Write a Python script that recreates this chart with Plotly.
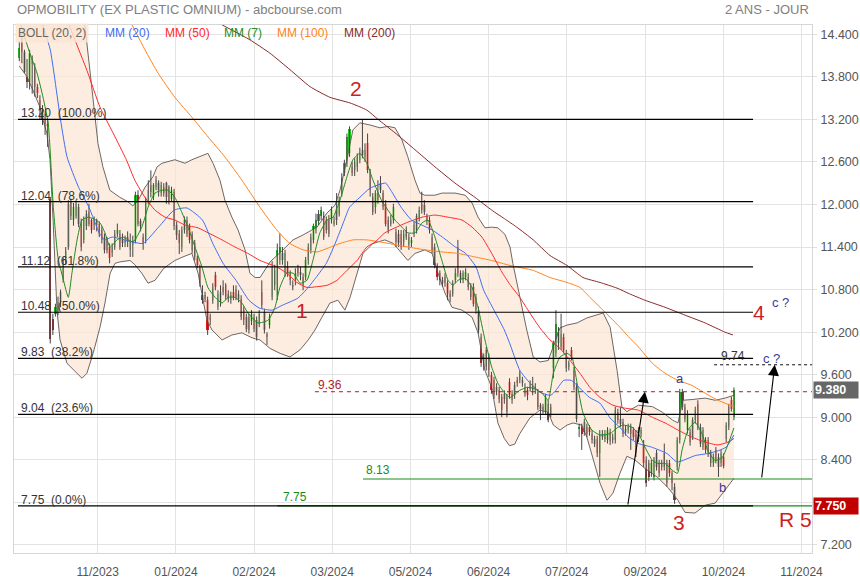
import plotly.graph_objects as go

# ---------------- data ----------------
TITLE = "OPMOBILITY (EX PLASTIC OMNIUM) - abcbourse.com"
PERIOD = "2 ANS - JOUR"

OPEN = [14.06, 14.34, 14.15, 13.80, 13.73, 13.98, 13.89, 13.66, 13.47, 13.35,
        13.19, 13.14, 12.08, 10.39, 10.46, 10.50, 10.62, 10.95, 11.21, 11.40,
        12.04, 11.78, 11.83, 11.97, 11.73, 11.50, 11.69, 11.90, 11.78, 11.71,
        11.78, 11.73, 11.64, 11.54, 11.50, 11.40, 11.31, 11.40, 11.59, 11.59,
        11.50, 11.45, 11.54, 11.36, 11.43, 11.50, 12.13, 11.76, 11.54, 11.50,
        12.06, 12.27, 12.11, 12.25, 12.30, 12.16, 12.25, 12.30, 12.25, 12.08,
        12.18, 11.71, 11.59, 11.40, 11.64, 11.78, 11.69, 11.59, 11.45, 11.24,
        11.12, 10.72, 10.72, 10.65, 10.37, 10.65, 11.00, 10.56, 10.63, 10.84,
        10.86, 10.74, 10.65, 10.77, 10.81, 10.67, 10.67, 10.51, 10.42, 10.42,
        10.35, 10.42, 10.37, 10.32, 10.77, 10.49, 10.18, 10.30, 10.70, 10.86,
        10.70, 11.21, 11.31, 11.03, 11.12, 11.03, 10.87, 10.93, 11.10, 11.05,
        10.98, 10.98, 11.21, 11.36, 11.50, 11.64, 11.76, 11.83, 11.83, 11.78,
        11.78, 11.78, 11.73, 11.94, 11.87, 12.16, 12.44, 12.58, 12.72, 12.53,
        12.48, 12.53, 12.63, 12.77, 12.67, 12.86, 12.46, 12.11, 11.97, 12.16,
        12.30, 12.16, 12.01, 11.78, 11.73, 11.78, 11.61, 11.59, 11.59, 11.47,
        11.64, 11.43, 11.45, 11.59, 11.64, 11.80, 12.01, 11.99, 11.83, 11.78,
        11.54, 11.40, 11.12, 11.03, 10.89, 10.98, 10.89, 10.74, 10.74, 10.93,
        11.40, 11.03, 10.93, 10.98, 10.98, 10.84, 10.84, 10.70, 10.51, 10.13,
        9.73, 9.95, 9.85, 9.59, 9.52, 9.36, 9.38, 9.29, 9.26, 9.29,
        9.50, 9.33, 9.31, 9.52, 9.52, 9.48, 9.33, 9.38, 9.40, 9.45,
        9.40, 9.36, 9.17, 9.15, 9.08, 9.19, 9.05, 9.70, 9.90, 10.04,
        9.99, 10.13, 9.90, 9.71, 9.95, 9.66, 9.43, 8.84, 8.86, 8.79,
        8.86, 8.86, 8.77, 8.63, 8.70, 8.49, 8.72, 8.77, 8.68, 8.79,
        8.68, 8.68, 9.08, 8.98, 8.93, 8.79, 8.82, 8.86, 8.82, 8.77,
        8.82, 8.77, 8.63, 8.40, 8.35, 8.21, 8.16, 8.49, 8.35, 8.30,
        8.49, 8.35, 8.35, 8.21, 8.02, 8.30, 8.68, 9.36, 9.15, 8.82,
        8.79, 8.72, 8.96, 9.19, 8.86, 8.58, 8.68, 8.68, 8.49, 8.35,
        8.54, 8.44, 8.35, 8.44, 8.70, 8.86, 9.24, 9.00]

HIGH = [14.30, 14.42, 14.18, 14.05, 14.18, 14.10, 13.99, 13.70, 13.54, 13.40,
        13.28, 13.20, 12.10, 10.46, 10.60, 10.70, 10.80, 11.25, 11.40, 12.06,
        12.08, 12.02, 12.06, 12.01, 11.80, 11.83, 11.92, 12.01, 11.80, 11.83,
        11.80, 11.76, 11.69, 11.59, 11.54, 11.45, 11.45, 11.64, 11.73, 11.64,
        11.59, 11.56, 11.62, 11.59, 11.56, 12.18, 12.20, 11.80, 11.59, 12.10,
        12.34, 12.48, 12.30, 12.40, 12.34, 12.32, 12.30, 12.32, 12.27, 12.25,
        12.22, 11.76, 11.64, 11.69, 11.83, 11.83, 11.73, 11.62, 11.50, 11.28,
        11.15, 10.86, 10.77, 10.70, 10.46, 10.89, 11.05, 10.79, 10.86, 10.93,
        10.89, 10.79, 10.77, 10.86, 10.86, 10.79, 10.72, 10.56, 10.46, 10.46,
        10.51, 10.46, 10.42, 10.51, 10.93, 10.53, 10.20, 10.46, 11.20, 11.15,
        11.45, 11.59, 11.40, 11.36, 11.20, 11.07, 10.93, 11.10, 11.15, 11.12,
        11.03, 11.26, 11.45, 11.59, 11.73, 11.87, 11.92, 11.97, 11.90, 11.83,
        11.85, 11.97, 11.83, 12.16, 12.11, 12.44, 12.63, 13.00, 13.10, 12.60,
        12.65, 12.72, 12.80, 13.19, 12.86, 13.00, 12.50, 12.16, 12.20, 12.34,
        12.40, 12.20, 12.06, 11.83, 11.85, 12.01, 11.66, 11.64, 11.64, 11.64,
        11.69, 11.59, 11.54, 11.76, 11.87, 11.97, 12.18, 12.06, 11.87, 11.83,
        11.59, 11.45, 11.17, 11.07, 10.98, 11.03, 10.93, 10.79, 10.93, 11.10,
        11.50, 11.07, 11.07, 11.10, 11.03, 10.89, 10.89, 10.74, 10.56, 10.18,
        9.90, 9.99, 9.90, 9.64, 9.57, 9.48, 9.43, 9.33, 9.38, 9.33,
        9.55, 9.38, 9.50, 9.57, 9.66, 9.57, 9.48, 9.43, 9.52, 9.57,
        9.48, 9.40, 9.20, 9.19, 9.33, 9.24, 9.19, 10.08, 10.51, 10.27,
        10.46, 10.18, 9.95, 9.80, 9.99, 9.71, 9.48, 8.91, 8.91, 8.98,
        8.91, 8.89, 8.82, 8.74, 8.74, 8.82, 8.82, 8.82, 8.86, 8.84,
        8.77, 9.15, 9.12, 9.15, 8.98, 8.89, 8.91, 8.91, 8.86, 8.82,
        8.86, 8.86, 8.68, 8.45, 8.40, 8.40, 8.44, 8.54, 8.40, 8.40,
        8.63, 8.40, 8.40, 8.25, 8.07, 8.72, 9.40, 9.40, 9.19, 9.10,
        8.84, 9.00, 9.15, 9.24, 8.91, 8.86, 8.72, 8.72, 8.54, 8.49,
        8.58, 8.49, 8.54, 8.49, 8.93, 9.19, 9.29, 9.42]

LOW = [14.02, 13.99, 13.85, 13.64, 13.62, 13.56, 13.52, 13.50, 13.20, 13.12,
       12.98, 12.81, 10.04, 10.16, 10.42, 10.44, 10.55, 10.90, 11.15, 11.36,
       11.78, 11.70, 11.80, 11.68, 11.34, 11.45, 11.64, 11.69, 11.59, 11.64,
       11.62, 11.54, 11.45, 11.31, 11.31, 11.17, 11.26, 11.36, 11.54, 11.36,
       11.40, 11.40, 11.40, 11.26, 11.26, 11.45, 11.69, 11.62, 11.36, 11.45,
       12.00, 12.10, 12.06, 12.20, 12.11, 12.11, 12.11, 12.01, 12.00, 12.04,
       11.64, 11.50, 11.30, 11.33, 11.59, 11.54, 11.45, 11.31, 11.21, 11.10,
       10.84, 10.60, 10.62, 10.16, 10.30, 10.60, 10.79, 10.51, 10.56, 10.72,
       10.65, 10.62, 10.60, 10.65, 10.65, 10.62, 10.37, 10.30, 10.20, 10.18,
       10.30, 10.20, 10.08, 10.27, 10.53, 10.18, 10.02, 10.25, 10.65, 10.79,
       10.65, 11.15, 11.15, 10.98, 10.98, 10.86, 10.79, 10.86, 10.98, 10.93,
       10.79, 10.93, 11.15, 11.31, 11.45, 11.59, 11.71, 11.78, 11.50, 11.59,
       11.54, 11.73, 11.69, 11.71, 11.83, 12.11, 12.40, 12.53, 12.67, 12.40,
       12.40, 12.46, 12.58, 12.65, 12.60, 12.44, 12.11, 11.85, 11.87, 12.01,
       12.16, 11.92, 11.69, 11.59, 11.69, 11.73, 11.40, 11.40, 11.36, 11.40,
       11.50, 11.36, 11.40, 11.54, 11.59, 11.76, 11.87, 11.85, 11.71, 11.59,
       11.31, 11.10, 10.93, 10.86, 10.84, 10.84, 10.65, 10.62, 10.70, 10.89,
       10.98, 10.89, 10.89, 10.93, 10.79, 10.65, 10.56, 10.46, 10.18, 9.71,
       9.66, 9.66, 9.57, 9.33, 9.26, 9.31, 9.20, 9.00, 9.19, 9.00,
       9.26, 9.19, 9.26, 9.43, 9.48, 9.43, 9.29, 9.24, 9.36, 9.31,
       9.33, 9.10, 8.96, 9.05, 9.03, 8.93, 9.00, 9.55, 9.85, 9.95,
       9.95, 9.90, 9.64, 9.66, 9.80, 9.38, 8.93, 8.72, 8.54, 8.74,
       8.72, 8.74, 8.63, 8.58, 8.44, 8.16, 8.68, 8.65, 8.63, 8.61,
       8.63, 8.63, 8.91, 8.86, 8.72, 8.74, 8.77, 8.54, 8.68, 8.44,
       8.65, 8.72, 8.30, 8.02, 8.10, 8.16, 8.11, 8.25, 8.16, 8.25,
       8.25, 8.02, 8.16, 7.97, 7.78, 8.25, 8.63, 9.10, 8.93, 8.77,
       8.60, 8.68, 8.91, 8.82, 8.58, 8.54, 8.49, 8.44, 8.30, 8.30,
       8.35, 8.16, 8.30, 8.28, 8.65, 8.82, 9.08, 8.96]

CLOSE = [14.20, 14.15, 13.87, 13.73, 14.13, 14.05, 13.66, 13.57, 13.35, 13.19,
         13.14, 13.10, 10.11, 10.23, 10.56, 10.62, 10.77, 11.21, 11.35, 12.01,
         11.83, 11.97, 12.01, 11.73, 11.40, 11.78, 11.87, 11.73, 11.64, 11.78,
         11.71, 11.59, 11.50, 11.36, 11.36, 11.24, 11.40, 11.59, 11.64, 11.40,
         11.45, 11.50, 11.47, 11.50, 11.50, 12.13, 11.73, 11.69, 11.45, 12.06,
         12.20, 12.18, 12.27, 12.34, 12.20, 12.27, 12.16, 12.11, 12.04, 12.20,
         11.69, 11.57, 11.45, 11.64, 11.78, 11.59, 11.50, 11.36, 11.26, 11.14,
         10.89, 10.65, 10.67, 10.23, 10.42, 10.84, 10.84, 10.74, 10.77, 10.77,
         10.70, 10.67, 10.72, 10.70, 10.70, 10.74, 10.42, 10.37, 10.25, 10.23,
         10.46, 10.25, 10.13, 10.46, 10.58, 10.23, 10.13, 10.42, 11.12, 11.07,
         11.36, 11.40, 11.21, 11.31, 11.03, 10.93, 10.84, 11.03, 11.03, 11.00,
         10.86, 11.21, 11.40, 11.54, 11.69, 11.78, 11.87, 11.92, 11.54, 11.64,
         11.59, 11.92, 11.78, 11.78, 12.06, 12.37, 12.58, 12.95, 13.07, 12.44,
         12.60, 12.67, 12.72, 12.70, 12.77, 12.48, 12.20, 11.90, 12.16, 12.06,
         12.20, 11.97, 11.73, 11.64, 11.78, 11.97, 11.47, 11.45, 11.40, 11.59,
         11.54, 11.54, 11.50, 11.71, 11.83, 11.92, 11.92, 11.90, 11.76, 11.64,
         11.36, 11.15, 10.98, 10.93, 10.93, 10.89, 10.74, 10.70, 10.89, 11.03,
         11.03, 10.93, 11.03, 11.05, 10.84, 10.70, 10.60, 10.51, 10.23, 9.76,
         9.85, 9.71, 9.66, 9.38, 9.31, 9.43, 9.26, 9.10, 9.33, 9.08,
         9.31, 9.24, 9.45, 9.48, 9.62, 9.52, 9.43, 9.31, 9.48, 9.38,
         9.43, 9.15, 9.12, 9.10, 9.29, 8.96, 9.15, 10.04, 10.32, 10.20,
         10.18, 9.95, 9.69, 9.76, 9.85, 9.43, 8.98, 8.86, 8.77, 8.93,
         8.77, 8.79, 8.68, 8.70, 8.49, 8.77, 8.77, 8.70, 8.82, 8.66,
         8.72, 9.10, 8.96, 8.91, 8.77, 8.84, 8.86, 8.77, 8.72, 8.49,
         8.70, 8.82, 8.35, 8.07, 8.16, 8.35, 8.40, 8.30, 8.21, 8.35,
         8.30, 8.07, 8.21, 8.07, 7.83, 8.68, 9.36, 9.15, 8.98, 9.05,
         8.65, 8.96, 9.10, 8.86, 8.63, 8.82, 8.54, 8.49, 8.35, 8.44,
         8.40, 8.30, 8.49, 8.32, 8.89, 9.15, 9.12, 9.38]

X_TICK_POS = [30.4, 60.7, 91.0, 121.3, 151.6, 181.9, 212.2, 242.6, 272.9, 303.2]
X_TICK_TEXT = ["11/2023", "01/2024", "02/2024", "03/2024", "05/2024",
               "06/2024", "07/2024", "09/2024", "10/2024", "11/2024"]
Y_TICKS = [7.2, 7.8, 8.4, 9.0, 9.6, 10.2, 10.8, 11.4, 12.0, 12.6, 13.2, 13.8, 14.4]

# Bollinger (20, 2) bands, sampled at bar index positions
BU_X = [0, 22, 25.5, 26.6, 28.6, 30.5, 32.4, 35.1, 39, 42, 44, 46, 48.7, 51.8, 53.4,
        55.3, 60.3, 64.2, 66.9, 73.1, 75.1, 77.8, 79.7, 82.4, 84.8, 87.5, 89.4, 91.4,
        93.3, 97.2, 102.2, 106.1, 110, 115.4, 119.3, 122.4, 124.3, 127, 129.3, 132,
        135.9, 139.8, 142.9, 145.6, 148.3, 150.6, 153.4, 155.3, 157.2, 161.1, 163.8,
        168.9, 172.8, 175.5, 177.8, 180.5, 183.1, 185.5, 188.2, 190.2, 191.3, 194,
        196.7, 199.2, 201.8, 205, 207, 209.6, 212.3, 216.2, 220, 223.9, 226.3, 229,
        231.7, 233.6, 235.5, 240, 245.4, 249.3, 253.2, 255.3, 257.2, 260.7, 265.8,
        269.7, 273.5, 277]
BU_Y = [14.9, 14.9, 14.50, 14.13, 13.43, 12.86, 12.53, 12.20, 12.10, 12.04, 11.98,
        12.05, 12.24, 12.39, 12.53, 12.58, 12.63, 12.58, 12.63, 12.72, 12.58, 12.34,
        12.06, 11.82, 11.64, 11.36, 11.03, 10.97, 10.97, 11.19, 11.36, 11.50, 11.57,
        11.68, 11.88, 11.99, 12.20, 12.63, 13.05, 13.15, 13.12, 13.08, 13.10, 13.08,
        12.91, 12.67, 12.34, 12.16, 12.13, 12.13, 12.16, 12.16, 12.13, 12.02, 11.82,
        11.67, 11.68, 11.67, 11.58, 11.40, 11.17, 10.69, 10.23, 9.85, 9.78, 9.80,
        10.01, 10.26, 10.30, 10.33, 10.40, 10.44, 10.47, 10.27, 9.66, 9.14, 9.08,
        9.17, 9.15, 9.07, 8.96, 8.92, 9.24, 9.25, 9.27, 9.24, 9.27, 9.31]

BL_X = [0, 3, 5.3, 8, 9.2, 10.7, 11.9, 13.1, 14.6, 15.8, 18.5, 22.4, 24.3, 26.2,
        28.6, 31.3, 33.2, 35.2, 37.1, 39, 42.9, 44.8, 47.5, 49.9, 52.6, 56, 60.3,
        63.4, 66.9, 69.3, 72.7, 74.7, 78.6, 82.4, 86.3, 90.2, 93.3, 97.2, 101.1,
        104.9, 108.8, 112, 114.6, 117.3, 120.4, 123.5, 126.2, 128.2, 130.9, 133.2,
        137.1, 141.7, 145, 150.6, 153.4, 157.2, 160, 162.3, 165, 167.7, 171.6, 175.5,
        177.8, 180.5, 183.1, 185.5, 188, 190, 192, 194, 197.9, 201.8, 205, 207,
        209.6, 212.3, 214.6, 218, 220, 222.5, 225.1, 227.8, 230.1, 232.8, 235.5,
        238.6, 242.5, 247.5, 251.4, 255.3, 258, 261.9, 265.8, 269.7, 273.5, 277]
BL_Y = [13.95, 13.80, 13.61, 13.37, 13.19, 13.00, 12.63, 11.78, 10.51, 10.09, 9.76,
        9.62, 9.55, 9.62, 9.90, 10.27, 10.61, 11.03, 11.17, 11.19, 11.21, 11.15,
        11.03, 10.89, 10.93, 11.10, 11.21, 11.26, 11.31, 11.03, 10.37, 10.23, 10.09,
        10.16, 10.19, 10.12, 10.09, 9.97, 9.90, 9.85, 9.95, 10.09, 10.23, 10.41,
        10.61, 10.65, 10.51, 10.69, 11.03, 11.31, 11.45, 11.50, 11.45, 11.21, 11.31,
        11.36, 11.31, 11.03, 10.75, 10.55, 10.51, 10.41, 10.19, 9.66, 9.42, 8.92,
        8.70, 8.60, 8.62, 8.77, 8.99, 9.10, 9.07, 8.89, 8.82, 8.89, 8.92, 8.89,
        8.72, 8.39, 8.07, 7.83, 7.93, 8.21, 8.45, 8.40, 8.28, 8.15, 8.01, 7.83,
        7.66, 7.65, 7.76, 7.79, 7.97, 8.14]

MM20_X = [9, 12, 16, 18.5, 23, 27, 31, 33, 36, 44, 48, 54, 60, 65, 71, 75, 79, 84,
          89, 93, 98, 102, 108, 112, 115, 119, 123, 126, 128, 132, 136, 142, 144,
          148, 152, 156, 160, 164, 169, 173, 177, 180, 184, 188, 190, 194, 198, 202,
          206, 208, 211, 214, 217, 221, 225, 229, 233, 236, 240, 245, 251, 255, 262,
          267, 271, 274, 277]
MM20_Y = [14.53, 14.18, 13.19, 12.67, 12.24, 11.96, 11.60, 11.50, 11.54, 11.47,
          11.45, 11.68, 11.92, 11.95, 11.78, 11.45, 11.17, 10.93, 10.65, 10.54,
          10.51, 10.58, 10.68, 10.83, 10.97, 11.17, 11.50, 11.78, 11.96, 12.10,
          12.23, 12.30, 12.20, 11.96, 11.78, 11.71, 11.64, 11.54, 11.40, 11.31,
          11.12, 10.79, 10.51, 10.23, 10.05, 9.66, 9.48, 9.35, 9.31, 9.38, 9.52,
          9.52, 9.42, 9.28, 9.20, 8.99, 8.85, 8.72, 8.63, 8.58, 8.49, 8.37, 8.46,
          8.49, 8.53, 8.58, 8.75]

MM7_X = [0.6, 4.1, 6.9, 9.2, 11.2, 11.9, 13.2, 15, 17, 19, 20.4, 22.4, 24.3, 26.7,
         28.6, 31.3, 33.2, 35.2, 37.9, 40.2, 44.1, 47.5, 49.9, 52.6, 55.3, 57.6,
         60.3, 63.1, 65.4, 68.1, 70.8, 73.1, 75.9, 78.6, 80.9, 83.6, 86.3, 88.6,
         92.5, 96.5, 99.1, 101, 103.6, 106.2, 108.8, 111.5, 113.8, 116.5, 119.3,
         121.6, 124.3, 127, 129.3, 132, 134.7, 137.1, 140.5, 142.9, 145.6, 148.3,
         150.6, 153.4, 156.1, 158.4, 161.1, 163.8, 166.2, 168.1, 170, 172.8, 175.5,
         177.8, 180.5, 183.1, 185.5, 188.2, 190.2, 194, 196.7, 199.2, 202.6, 205,
         207, 209.6, 212.3, 214.2, 216.2, 218.5, 221.9, 225.1, 229, 231.7, 234,
         237.5, 240, 242.5, 245.4, 247.5, 250.3, 253.2, 255.1, 256.9, 259.2, 261.9,
         264.6, 266.9, 269.7, 272.4, 274.3, 277]
MM7_Y = [14.53, 14.13, 13.85, 13.51, 13.15, 12.80, 11.96, 11.25, 10.95, 10.69,
         11.03, 11.50, 11.78, 11.82, 11.80, 11.74, 11.60, 11.40, 11.50, 11.54,
         11.47, 11.68, 11.96, 12.16, 12.20, 12.20, 12.10, 11.88, 11.68, 11.40,
         11.12, 10.83, 10.69, 10.61, 10.69, 10.69, 10.61, 10.47, 10.33, 10.37,
         10.55, 10.83, 11.03, 11.03, 10.89, 10.93, 11.21, 11.60, 11.78, 11.82,
         12.06, 12.39, 12.63, 12.72, 12.58, 12.34, 12.05, 11.92, 11.78, 11.68,
         11.60, 11.60, 11.74, 11.78, 11.54, 11.21, 10.93, 10.86, 10.93, 10.96,
         10.83, 10.55, 10.09, 9.71, 9.48, 9.34, 9.28, 9.38, 9.42, 9.41, 9.34,
         9.24, 9.62, 9.85, 9.90, 9.85, 9.48, 9.06, 8.82, 8.75, 8.77, 8.85, 8.89,
         8.86, 8.77, 8.58, 8.39, 8.35, 8.35, 8.25, 8.21, 8.54, 8.82, 8.93, 8.77,
         8.53, 8.39, 8.43, 8.58, 8.85]

MM50_X = [18.5, 26.2, 31.3, 36.3, 41.5, 44.8, 48.7, 52.6, 56.5, 60.3, 64.2, 69.3,
          73.2, 78.6, 83.6, 88.6, 93.3, 99.8, 103.7, 107.6, 111.5, 115.3, 119.3,
          123.1, 127, 130.9, 134.7, 137.9, 141.7, 145.6, 150.6, 156.1, 161.1, 166.2,
          171.6, 175.5, 179.3, 183.1, 187, 190.2, 194, 197.9, 201.8, 205.7, 209.6,
          213.5, 217.3, 221.2, 225.1, 230.1, 234.5, 240, 245.4, 250.3, 255.3, 260.7,
          265.8, 270.8, 274.7, 277]
MM50_Y = [14.60, 13.89, 13.37, 13.01, 12.63, 12.34, 12.10, 11.92, 11.82, 11.78,
          11.71, 11.67, 11.60, 11.50, 11.40, 11.31, 11.21, 11.12, 11.03, 10.90,
          10.83, 10.84, 10.86, 10.93, 11.07, 11.21, 11.40, 11.47, 11.60, 11.67,
          11.75, 11.82, 11.85, 11.82, 11.78, 11.68, 11.54, 11.31, 11.05, 10.87,
          10.69, 10.47, 10.26, 10.09, 9.97, 9.80, 9.62, 9.42, 9.28, 9.17, 9.13,
          9.10, 9.00, 8.92, 8.82, 8.72, 8.65, 8.61, 8.65, 8.70]

MM100_X = [43.7, 48.7, 53.8, 60.3, 66.9, 73.2, 79.7, 86.3, 93.3, 99.8, 104.9, 110,
           115.4, 119.3, 124.3, 129.3, 134.7, 141.7, 150.6, 157.2, 163.8, 170, 176.6,
           183.1, 190.2, 199.2, 205.7, 212.3, 217.3, 221.2, 225.1, 229, 232.8, 236,
           240, 245.4, 250.3, 255.3, 260.7, 265.8, 270.8, 277]
MM100_Y = [14.53, 14.18, 13.85, 13.51, 13.23, 12.95, 12.67, 12.34, 11.96, 11.64,
           11.45, 11.36, 11.33, 11.38, 11.45, 11.50, 11.50, 11.46, 11.40, 11.36,
           11.33, 11.31, 11.26, 11.21, 11.14, 11.07, 10.97, 10.90, 10.83, 10.69,
           10.55, 10.41, 10.27, 10.14, 9.99, 9.76, 9.62, 9.52, 9.45, 9.34, 9.24, 9.15]

MM200_X = [78.6, 89.4, 97.2, 104.9, 112.7, 120.4, 128.2, 134.7, 139, 145.6, 153.4,
           161.1, 168.9, 176.6, 183.1, 188, 192.8, 199.2, 205.7, 212.3, 218.5, 225.1,
           231.7, 236.5, 242.5, 250.3, 258, 265.8, 273.5, 276.6]
MM200_Y = [14.53, 14.32, 14.13, 13.90, 13.66, 13.51, 13.43, 13.33, 13.20, 13.01,
           12.77, 12.53, 12.30, 12.10, 11.92, 11.80, 11.68, 11.50, 11.28, 11.14,
           10.97, 10.90, 10.82, 10.74, 10.65, 10.55, 10.44, 10.33, 10.20, 10.16]

FIB_LEVELS = [13.20, 12.04, 11.12, 10.48, 9.83, 9.04, 7.75]
FIB_PCT = ["100.0%", "78.6%", "61.8%", "50.0%", "38.2%", "23.6%", "0.0%"]

LAST_PRICE = 9.38
SUPPORT_PRICE = 7.75
LINE_936 = 9.36
LINE_974 = 9.74
LINE_813 = 8.13

# ---------------- figure ----------------
FONT = "Arial, 'Liberation Sans', sans-serif"
XR = [-2.05, 307.25]
YR = [7.087, 14.529]
ML, MR, MT, MB = 14, 48, 25, 27
PW, PH = 860 - ML - MR, 580 - MT - MB


def px(xp):
    return (xp - ML) / PW


def py(yp):
    return (580 - MB - yp) / PH


fig = go.Figure()

# Bollinger fill + outlines
fig.add_trace(go.Scatter(x=BU_X + BL_X[::-1], y=BU_Y + BL_Y[::-1], fill="toself",
                         fillcolor="rgba(252,230,214,0.72)", mode="lines",
                         line=dict(width=0), hoverinfo="skip"))
for bx, by in ((BU_X, BU_Y), (BL_X, BL_Y)):
    fig.add_trace(go.Scatter(x=bx, y=by, mode="lines",
                             line=dict(color="#6f6662", width=1), hoverinfo="skip"))

# candles: wicks then bodies
idx = list(range(len(CLOSE)))
wx, wy = [], []
for i, (h, l) in enumerate(zip(HIGH, LOW)):
    wx += [i, i, None]
    wy += [l, h, None]
fig.add_trace(go.Scatter(x=wx, y=wy, mode="lines",
                         line=dict(color="#444444", width=1), hoverinfo="skip"))
base = [min(o, c) for o, c in zip(OPEN, CLOSE)]
height = [max(abs(c - o), 0.02) for o, c in zip(OPEN, CLOSE)]
colors = ["#22c322" if c >= o else "#dc1a1a" for o, c in zip(OPEN, CLOSE)]
fig.add_trace(go.Bar(x=idx, y=height, base=base, width=0.92,
                     marker=dict(color=colors, line=dict(width=0)), hoverinfo="skip"))

# moving averages
for mx, my, col in ((MM200_X, MM200_Y, "#8b2a2a"), (MM100_X, MM100_Y, "#ff8420"),
                    (MM50_X, MM50_Y, "#ff2a2a"), (MM20_X, MM20_Y, "#3f6df2"),
                    (MM7_X, MM7_Y, "#1e8c1e")):
    fig.add_trace(go.Scatter(x=mx, y=my, mode="lines",
                             line=dict(color=col, width=1, shape="spline", smoothing=0.5),
                             hoverinfo="skip"))

shapes = []
# green support lines
shapes.append(dict(type="line", xref="x", yref="y", x0=100, x1=XR[1], y0=SUPPORT_PRICE,
                   y1=SUPPORT_PRICE, line=dict(color="#1a8a1a", width=1.2)))
shapes.append(dict(type="line", xref="x", yref="y", x0=133.2, x1=XR[1], y0=LINE_813,
                   y1=LINE_813, line=dict(color="#1a8a1a", width=1.2)))
# dashed lines
shapes.append(dict(type="line", xref="x", yref="y", x0=114.6, x1=XR[1], y0=LINE_936,
                   y1=LINE_936, line=dict(color="#b01c1c", width=1, dash="4px,4px")))
shapes.append(dict(type="line", xref="x", yref="y", x0=269.3, x1=XR[1], y0=LINE_974,
                   y1=LINE_974, line=dict(color="#111111", width=1, dash="3px,3px")))
# fibonacci lines
for lv in FIB_LEVELS:
    shapes.append(dict(type="line", xref="x", yref="y", x0=-0.5, x1=284.4, y0=lv, y1=lv,
                       line=dict(color="#000000", width=1.2)))

ann = []
for lv, pct in zip(FIB_LEVELS, FIB_PCT):
    ann.append(dict(x=0, y=lv, xref="x", yref="y", xanchor="left", yanchor="bottom",
                    yshift=-3, showarrow=False, text=f"{lv:.2f}\u00a0\u00a0({pct})",
                    font=dict(size=12, color="#333333", family=FONT)))

RED = "#cc1f1f"
NAVY = "#3a3a9a"
for t, x, y in (("2", 130.5, 13.63), ("1", 109.6, 10.50), ("3", 255.7, 7.52),
                ("4", 286.7, 10.47), ("R 5", 300.7, 7.56)):
    ann.append(dict(x=x, y=y, xref="x", yref="y", showarrow=False, text=t,
                    font=dict(size=21, color=RED, family=FONT)))
for t, x, y in (("a", 256.1, 9.55), ("b", 272.7, 8.01), ("c ?", 295.0, 10.62),
                ("c ?", 291.4, 9.83)):
    ann.append(dict(x=x, y=y, xref="x", yref="y", showarrow=False, text=t,
                    font=dict(size=13, color=NAVY, family=FONT)))
for t, x, y, col in (("9.36", 120.4, 9.45, "#b01c1c"), ("9.74", 276.6, 9.86, "#333333"),
                     ("8.13", 139.0, 8.25, "#1a8a1a"), ("7.75", 106.9, 7.87, "#1a8a1a")):
    ann.append(dict(x=x, y=y, xref="x", yref="y", showarrow=False, text=t,
                    font=dict(size=12, color=col, family=FONT)))

# arrows
for (x0, y0, x1, y1) in ((235.8, SUPPORT_PRICE, 242.5, LINE_936),
                         (287.7, LINE_813, 292.8, LINE_974)):
    ann.append(dict(x=x1, y=y1, ax=x0, ay=y0, xref="x", yref="y", axref="x", ayref="y",
                    showarrow=True, arrowhead=2, arrowsize=2, arrowwidth=1.1,
                    arrowcolor="#000000", text=""))

# price tags on the right
for val, bg in ((LAST_PRICE, "#676767"), (SUPPORT_PRICE, "#c00000")):
    ann.append(dict(x=1, y=val, xref="paper", yref="y", xanchor="left", xshift=1,
                    showarrow=False, text=f"<b>{val:.3f}</b>", bgcolor=bg, borderpad=1,
                    width=42, align="left",
                    font=dict(size=12.5, color="#ffffff", family=FONT)))

# header
ann.append(dict(x=px(15), y=py(9), xref="paper", yref="paper", xanchor="left",
                yanchor="middle", showarrow=False, text=TITLE,
                font=dict(size=13, color="#808080", family=FONT)))
ann.append(dict(x=px(811), y=py(9), xref="paper", yref="paper", xanchor="right",
                yanchor="middle", showarrow=False, text=PERIOD,
                font=dict(size=13, color="#808080", family=FONT)))

# indicator legend
ann.append(dict(x=px(15), y=py(33), xref="paper", yref="paper", xanchor="left",
                yanchor="middle", showarrow=False, text="BOLL (20, 2)",
                bgcolor="rgba(252,228,210,0.85)", borderpad=2,
                font=dict(size=12, color="#666666", family=FONT)))
for t, xp, col in (("MM (20)", 103, "#3f6df2"), ("MM (50)", 163, "#ff2a2a"),
                   ("MM (7)", 222, "#1e8c1e"), ("MM (100)", 275, "#ff8420"),
                   ("MM (200)", 342, "#8b2a2a")):
    ann.append(dict(x=px(xp), y=py(33), xref="paper", yref="paper", xanchor="left",
                    yanchor="middle", showarrow=False, text=t,
                    font=dict(size=12, color=col, family=FONT)))

fig.update_layout(
    width=860, height=580,
    margin=dict(l=ML, r=MR, t=MT, b=MB, autoexpand=False),
    paper_bgcolor="white", plot_bgcolor="white",
    showlegend=False, bargap=0,
    font=dict(family=FONT, size=12, color="#555555"),
    shapes=shapes, annotations=ann,
    xaxis=dict(range=XR, tickvals=X_TICK_POS, ticktext=X_TICK_TEXT, showgrid=True,
               gridcolor="#e3e3e3", gridwidth=1, zeroline=False, showline=True,
               mirror=True, linecolor="#d6d6d6", ticks="", ticklabelstandoff=8,
               tickfont=dict(size=12, color="#555555", family=FONT), fixedrange=True),
    yaxis=dict(range=YR, side="right", tickvals=Y_TICKS, tickformat=".3f",
               showgrid=True, gridcolor="#e3e3e3", gridwidth=1, zeroline=False,
               showline=True, mirror=True, linecolor="#d6d6d6", ticks="outside",
               ticklen=4, tickcolor="#dddddd", ticklabelstandoff=1,
               tickfont=dict(size=12.5, color="#555555", family=FONT), fixedrange=True),
)

fig.write_html(
    "out.html",
    config={"displayModeBar": False},
    post_script="document.body.style.margin='0';document.body.style.padding='0';"
                "document.body.style.overflow='hidden';",
)
